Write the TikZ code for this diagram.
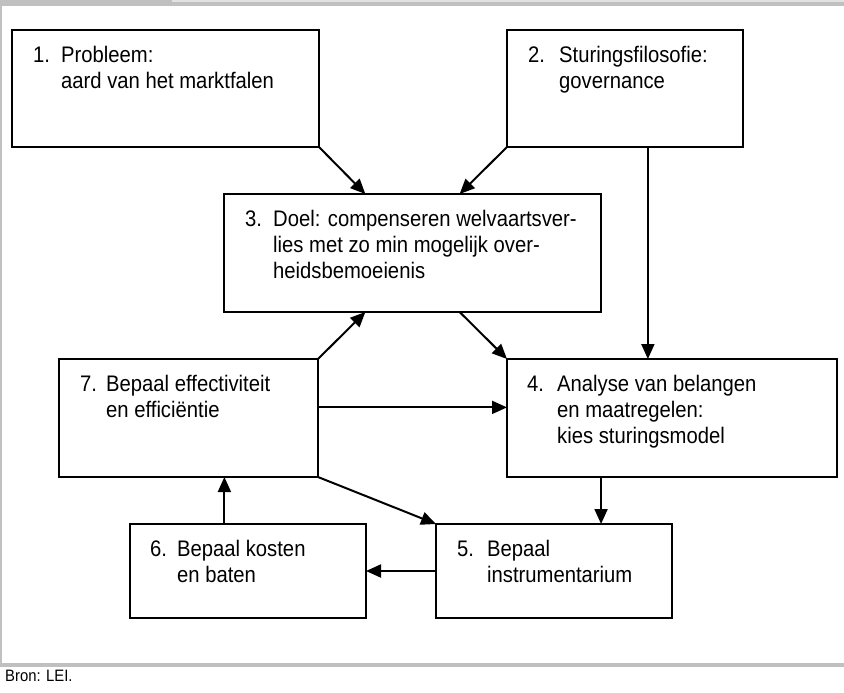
\documentclass[tikz,border=0pt]{standalone}
\usepackage{fontspec}
\setmainfont{Liberation Sans}[FakeStretch=0.9]
\usetikzlibrary{calc,arrows.meta}
\definecolor{bandgray}{RGB}{192,192,192}
\definecolor{bandlight}{RGB}{226,226,226}
\newcommand\boxnum[2][28pt]{\makebox[#1][l]{#2}}
\begin{document}
\begin{tikzpicture}[x=1pt,y=-1pt,
  box/.style={draw, line width=1.5pt, inner sep=0pt, outer sep=0pt},
  txt/.style={anchor=north west, inner sep=0pt, align=left, font=\fontsize{22.5}{26}\selectfont},
  arr/.style={-{Triangle[length=15pt,width=13pt]}, line width=2pt}]
\useasboundingbox (0,0) rectangle (844,693);
% frame
\fill[bandgray] (0,0) rectangle (844,6);
\fill[bandlight] (172,0) rectangle (844,2);
\fill[bandgray] (0,6) rectangle (1.5,663);
\fill[bandgray] (0,663) rectangle (844,667);
\node[anchor=base west, inner sep=0pt, font=\fontsize{16.5}{19}\selectfont] (src) at (5,681) {Bron: LEI.};
% boxes
\node[box, minimum width=307pt, minimum height=117pt] (b1) at (165.5,88.5) {};
\node[box, minimum width=236pt, minimum height=117pt] (b2) at (625,88.5) {};
\node[box, minimum width=377pt, minimum height=118pt] (b3) at (412.5,253) {};
\node[box, minimum width=330pt, minimum height=118pt] (b4) at (672,418) {};
\node[box, minimum width=236pt, minimum height=94pt] (b5) at (554,571) {};
\node[box, minimum width=236pt, minimum height=94pt] (b6) at (248,571) {};
\node[box, minimum width=259pt, minimum height=118pt] (b7) at (188.5,418) {};
% texts
\node[txt] (t1) at ($(b1.north west)+(21,16)$) {\boxnum{1.}Probleem:\\\hspace*{28pt}aard van het marktfalen};
\node[txt] (t2) at ($(b2.north west)+(21,16)$) {\boxnum[31pt]{2.}Sturingsfilosofie:\\\hspace*{31pt}governance};
\node[txt] (t3) at ($(b3.north west)+(21,16)$) {\boxnum{3.}Doel: compenseren welvaartsver-\\\hspace*{28pt}lies met zo min mogelijk over-\\\hspace*{28pt}heidsbemoeienis};
\node[txt] (t4) at ($(b4.north west)+(20,16)$) {\boxnum[30pt]{4.}Analyse van belangen\\\hspace*{30pt}en maatregelen:\\\hspace*{30pt}kies sturingsmodel};
\node[txt] (t5) at ($(b5.north west)+(21,16)$) {\boxnum[30pt]{5.}Bepaal\\\hspace*{30pt}instrumentarium};
\node[txt] (t6) at ($(b6.north west)+(20,16)$) {\boxnum[27pt]{6.}Bepaal kosten\\\hspace*{27pt}en baten};
\node[txt] (t7) at ($(b7.north west)+(21,16)$) {\boxnum[26pt]{7.}Bepaal effectiviteit\\\hspace*{26pt}en efficiëntie};
% connector points
\coordinate (p13) at ($(b3.north west)!0.375!(b3.north east)$);
\coordinate (p23) at ($(b3.north west)!0.625!(b3.north east)$);
\coordinate (p73) at ($(b3.south west)!0.375!(b3.south east)$);
\coordinate (p34) at ($(b3.south west)!0.625!(b3.south east)$);
\coordinate (p24) at ($(b2.south west)!0.597!(b2.south east)$);
\coordinate (p45) at ($(b4.south west)!0.285!(b4.south east)$);
\coordinate (p74) at ($(b7.north east)!0.41!(b7.south east)$);
\coordinate (p67) at ($(b6.north west)!0.4!(b6.north east)$);
% connectors
\draw[arr] (b1.south east) -- (p13);
\draw[arr] (b2.south west) -- (p23);
\draw[arr] (b7.north east) -- (p73);
\draw[arr] (p34) -- (b4.north west);
\draw[arr] (p24) -- (p24 |- b4.north);
\draw[arr] (p74) -- (p74 -| b4.west);
\draw[arr] (p45) -- (p45 |- b5.north);
\draw[arr] (b7.south east) -- (b5.north west);
\draw[arr] (b5.west) -- (b6.east);
\draw[arr] (p67) -- (p67 |- b7.south);
\end{tikzpicture}
\end{document}
